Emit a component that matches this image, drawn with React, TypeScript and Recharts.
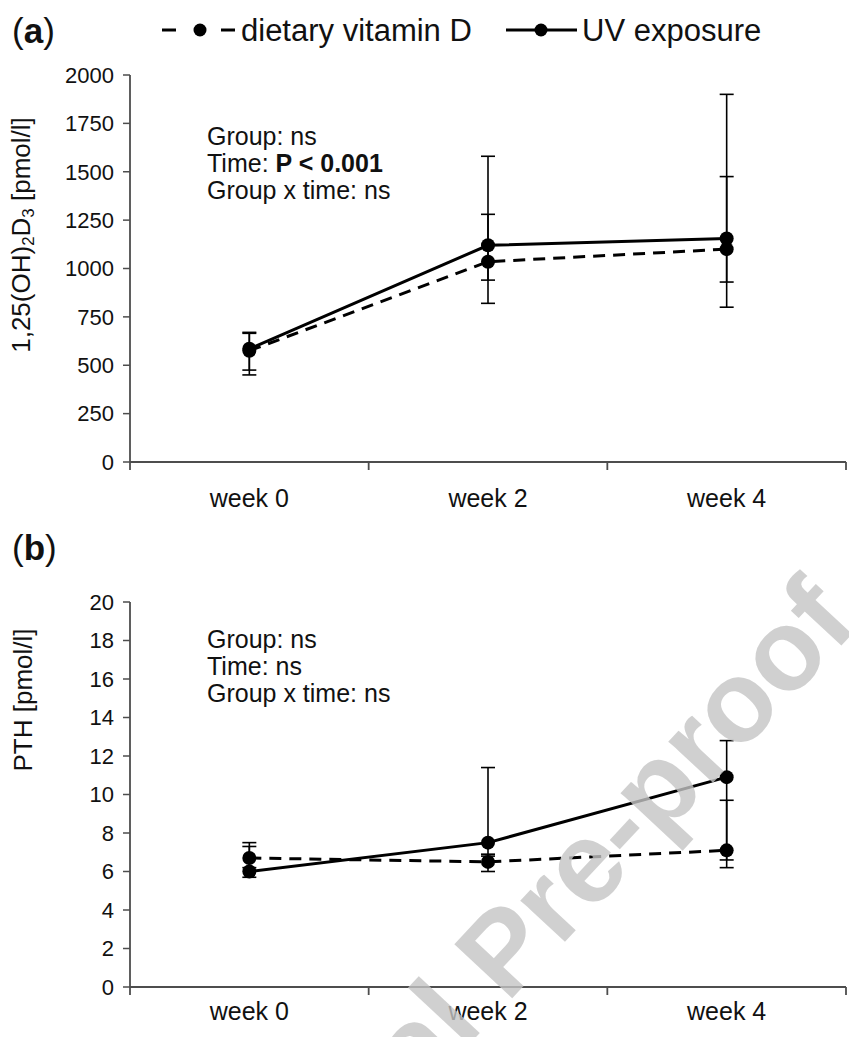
import React from 'react';
import { LineChart, Line, XAxis, YAxis, ErrorBar } from 'recharts';

const weeks = ['week 0', 'week 2', 'week 4'];
const weekPos = [0, 1, 2];
const xTicks = [-0.5, 0, 0.5, 1, 1.5, 2, 2.5];

// (a) 1,25(OH)2D3 [pmol/l]
const dietA = [575, 1035, 1100];
const dietALo = [450, 820, 800];
const dietAHi = [665, 1280, 1475];
const uvA = [585, 1120, 1155];
const uvALo = [475, 940, 930];
const uvAHi = [670, 1580, 1900];
const ticksA = [0, 250, 500, 750, 1000, 1250, 1500, 1750, 2000];

// (b) PTH [pmol/l]
const dietB = [6.7, 6.5, 7.1];
const dietBLo = [6.2, 6.0, 6.2];
const dietBHi = [7.5, 6.9, 9.7];
const uvB = [6.0, 7.5, 10.9];
const uvBLo = [5.7, 6.8, 6.6];
const uvBHi = [7.3, 11.4, 12.8];
const ticksB = [0, 2, 4, 6, 8, 10, 12, 14, 16, 18, 20];

const font = '"Liberation Sans", Arial, Helvetica, sans-serif';
const axisColor = '#4d4d4d';
const ink = '#111';

function buildRows(diet: number[], dLo: number[], dHi: number[], uv: number[], uLo: number[], uHi: number[]) {
  return weekPos.map((x, i) => ({
    x,
    diet: diet[i],
    dietErr: [diet[i] - dLo[i], dHi[i] - diet[i]],
    uv: uv[i],
    uvErr: [uv[i] - uLo[i], uHi[i] - uv[i]],
  }));
}

const rowsA = buildRows(dietA, dietALo, dietAHi, uvA, uvALo, uvAHi);
const rowsB = buildRows(dietB, dietBLo, dietBHi, uvB, uvBLo, uvBHi);

function makeXTick(labelDy: number) {
  return (props: any) => {
    const { x, y, payload } = props;
    const v = payload.value as number;
    if (Number.isInteger(v)) {
      return (
        <text x={x} y={y + labelDy} textAnchor="middle" fontSize={25} fontFamily={font} fill={ink}>
          {weeks[v]}
        </text>
      );
    }
    return <line x1={x} x2={x} y1={y} y2={y + 8} stroke={axisColor} strokeWidth={1.8} />;
  };
}

function Panel({ rows, ticks, max, height, top, bottom, labelDy }: any) {
  return (
    <LineChart
      width={849}
      height={height}
      data={rows}
      margin={{ top, right: 3, left: 0, bottom }}
    >
      <XAxis
        type="number"
        dataKey="x"
        domain={[-0.5, 2.5]}
        ticks={xTicks}
        interval={0}
        tickSize={0}
        tickMargin={0}
        tickLine={false}
        height={50}
        axisLine={{ stroke: axisColor, strokeWidth: 1.8 }}
        tick={makeXTick(labelDy)}
      />
      <YAxis
        type="number"
        domain={[0, max]}
        ticks={ticks}
        interval={0}
        width={130}
        tickSize={7}
        tickMargin={9}
        axisLine={{ stroke: axisColor, strokeWidth: 1.8 }}
        tickLine={{ stroke: axisColor, strokeWidth: 1.5 }}
        tick={{ fontSize: 22, fontFamily: font, fill: ink }}
      />
      <Line
        dataKey="diet"
        stroke="#000"
        strokeWidth={3}
        strokeDasharray="12 8"
        dot={{ r: 7, fill: '#000', stroke: '#000', strokeWidth: 0 }}
        isAnimationActive={false}
      >
        <ErrorBar dataKey="dietErr" direction="y" width={7} stroke="#000" strokeWidth={1.6} />
      </Line>
      <Line
        dataKey="uv"
        stroke="#000"
        strokeWidth={3}
        dot={{ r: 7, fill: '#000', stroke: '#000', strokeWidth: 0 }}
        isAnimationActive={false}
      >
        <ErrorBar dataKey="uvErr" direction="y" width={7} stroke="#000" strokeWidth={1.6} />
      </Line>
    </LineChart>
  );
}

const textStyle: React.CSSProperties = {
  position: 'absolute',
  fontFamily: font,
  color: ink,
  whiteSpace: 'nowrap',
  lineHeight: 1,
};

function Stats({ left, top, time }: { left: number; top: number; time: React.ReactNode }) {
  return (
    <div style={{ ...textStyle, left, top, fontSize: 25 }}>
      <div style={{ height: 27 }}>Group: ns</div>
      <div style={{ height: 27 }}>Time: {time}</div>
      <div style={{ height: 27 }}>Group x time: ns</div>
    </div>
  );
}

export default function App() {
  return (
    <div style={{ position: 'absolute', left: 0, top: 0, width: 849, height: 1037, background: '#fff', overflow: 'hidden' }}>
      <svg width={849} height={60} style={{ position: 'absolute', left: 0, top: 0 }}>
        <text x={12} y={43} fontSize={35} fontFamily={font} fill={ink}>
          (<tspan fontWeight="bold">a</tspan>)
        </text>
        <line x1={162} x2={176} y1={30} y2={30} stroke="#000" strokeWidth={3} />
        <circle cx={200} cy={30} r={6.5} fill="#000" />
        <line x1={221} x2={235} y1={30} y2={30} stroke="#000" strokeWidth={3} />
        <text x={241} y={41} fontSize={31} fontFamily={font} fill={ink}>dietary vitamin D</text>
        <line x1={506} x2={577} y1={30} y2={30} stroke="#000" strokeWidth={3} />
        <circle cx={541} cy={30} r={6.5} fill="#000" />
        <text x={582} y={41} fontSize={31} fontFamily={font} fill={ink}>UV exposure</text>
      </svg>

      <div style={{ position: 'absolute', left: 0, top: 0 }}>
        <Panel rows={rowsA} ticks={ticksA} max={2000} height={520} top={75} bottom={8} labelDy={45} />
      </div>
      <div style={{ position: 'absolute', left: 0, top: 520 }}>
        <Panel rows={rowsB} ticks={ticksB} max={20} height={517} top={82} bottom={0} labelDy={33} />
      </div>

      <div style={{ ...textStyle, left: 23, top: 235, fontSize: 26, transform: 'translate(-50%, -50%) rotate(-90deg)' }}>
        1,25(OH)<sub style={{ fontSize: '0.65em', verticalAlign: '-0.25em' }}>2</sub>D
        <sub style={{ fontSize: '0.65em', verticalAlign: '-0.25em' }}>3</sub> [pmol/l]
      </div>
      <div style={{ ...textStyle, left: 23, top: 700, fontSize: 26, transform: 'translate(-50%, -50%) rotate(-90deg)' }}>
        PTH [pmol/l]
      </div>

      <Stats left={207} top={124} time={<b>P &lt; 0.001</b>} />
      <Stats left={207} top={627} time="ns" />

      <div style={{ ...textStyle, left: 12, top: 530, fontSize: 35 }}>
        (<b>b</b>)
      </div>

      {/* watermark sits over the plot, semi-transparent */}
      <svg width={849} height={1037} style={{ position: 'absolute', left: 0, top: 0, pointerEvents: 'none' }}>
        <text
          transform="translate(202,1331) rotate(-47)"
          fontSize={115}
          fontWeight="bold"
          fontFamily={font}
          fill="#c4c4c4"
          fillOpacity={0.8}
        >
          Journal Pre-proof
        </text>
      </svg>
    </div>
  );
}
